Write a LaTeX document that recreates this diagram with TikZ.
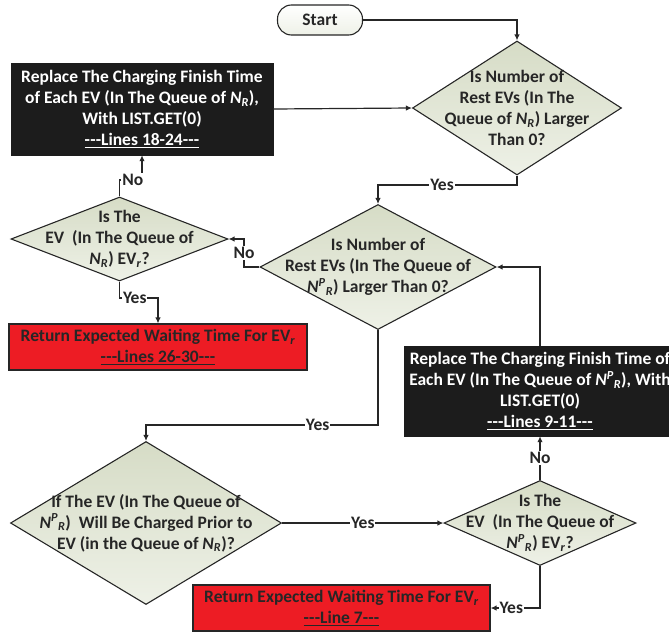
\documentclass[tikz,border=0pt]{standalone}
\usepackage{fontspec}
\newfontfamily\carl{Carlito}
\usetikzlibrary{shapes.geometric,arrows.meta}
\definecolor{diaTop}{HTML}{D6DCC6}
\definecolor{diaBot}{HTML}{EEF1E7}
\definecolor{boxRed}{HTML}{ED1C24}
\definecolor{boxBlk}{HTML}{1C1C1C}
\definecolor{txt}{HTML}{262626}
\newcommand{\myNR}{\textit{N}\textsubscript{\textit{R}}}
\newcommand{\myNPR}{\textit{N}\textsuperscript{\textit{P}}\textsubscript{\textit{R}}}
\newcommand{\myEVr}{EV\textsubscript{\textit{r}}}
\newcommand{\mytd}{-\kern0.01em-\kern0.01em-}
\tikzset{
  base/.style={font=\carl\bfseries\fontsize{17.5}{21}\selectfont, align=center, text=txt},
  dia/.style={shape=diamond, draw=txt, line width=1.1pt, top color=diaTop, bottom color=diaBot, inner sep=0pt, text=txt},
  dtext/.style={base, inner sep=0pt},
  blk/.style={base, rectangle, fill=boxBlk, draw=boxBlk, text=white, inner sep=0pt},
  red/.style={base, rectangle, fill=boxRed, draw=txt, line width=1.1pt, inner sep=0pt},
  term/.style={base, rectangle, rounded corners=14pt, draw=txt, line width=1.1pt, top color=white, bottom color=diaBot, inner sep=0pt},
  conn/.style={draw=txt, line width=1.2pt, -{Latex[length=6pt,width=5.5pt]}},
  lab/.style={base, fill=white, inner sep=1pt},
}
\begin{document}
\begin{tikzpicture}[x=1pt,y=-1pt]
\useasboundingbox (0,0) rectangle (669,632);
\begin{scope}
\clip (0,0) rectangle (669,632);
% nodes
\node[term, minimum width=85pt, minimum height=30pt] (start) at (320,20) {Start};
\node[dia, minimum width=209pt, minimum height=134pt] (d1) at (517,108) {};
\node[dtext] at (d1.center) {Is Number of\\Rest EVs (In The\\Queue of \myNR) Larger\\Than 0?};
\node[blk, minimum width=262pt, minimum height=92pt] (b1) at (142,109) {Replace The Charging Finish Time\\of Each EV (In The Queue of \myNR),\\With LIST.GET(0)\\\underline{\mytd Lines 18-24\mytd}};
\node[dia, minimum width=236pt, minimum height=125pt] (d2) at (378,267) {};
\node[dtext] at (d2.center) {Is Number of\\Rest EVs (In The Queue of\\\myNPR) Larger Than 0?};
\node[dia, minimum width=217pt, minimum height=84pt] (d3) at (119.5,239) {};
\node[dtext] at (d3.center) {Is The\\EV\ \ (In The Queue of\\\myNR) \myEVr?};
\node[red, minimum width=298pt, minimum height=46pt] (r1) at (158,347) {Return Expected Waiting Time For \myEVr\\\underline{\mytd Lines 26-30\mytd}};
\node[blk, minimum width=272pt, minimum height=90pt] (b2) at (540,391) {Replace The Charging Finish Time of\\Each EV (In The Queue of \myNPR), With\\LIST.GET(0)\\\underline{\mytd Lines 9-11\mytd}};
\node[dia, minimum width=271pt, minimum height=163pt] (d4) at (146,523) {};
\node[dtext] at (d4.center) {If The EV (In The Queue of\\\myNPR)\ \ Will Be Charged Prior to\\EV (in the Queue of \myNR)?};
\node[dia, minimum width=192pt, minimum height=85pt] (d5) at (540,523) {};
\node[dtext] at (d5.center) {Is The\\EV\ \ (In The Queue of\\\myNPR) \myEVr?};
\node[red, minimum width=297pt, minimum height=46pt] (r2) at (341.5,608) {Return Expected Waiting Time For \myEVr\\\underline{\mytd Line 7\mytd}};
% connectors
\draw[conn] (start.east) -| (d1.north);
\draw[conn] (b1.east) -- (d1.west);
\draw[conn] (d1.south) |- (378,185) -- (d2.north) node[pos=0, lab, xshift=64pt] {Yes};
\draw[conn] (d2.west) -- (244,267) -- (244,239) node[midway, lab] {No} -- (d3.east);
\draw[conn] (d3.north) |- (b1.south |- 0,180) node[pos=0.75, lab, xshift=2pt] {No} -- (b1.south);
\draw[conn] (d3.south) |- (r1.north |- 0,298) node[pos=0.75, lab, xshift=-4pt] {Yes} -- (r1.north);
\draw[conn] (d2.south) |- (d4.north |- 0,425) node[pos=0.63, lab] {Yes} -- (d4.north);
\draw[conn] (d4.east) -- (d5.west) node[midway, lab] {Yes};
\draw[conn] (d5.north) -- (b2.south) node[midway, lab] {No};
\draw[conn] (b2.north) |- (d2.east);
\draw[conn] (d5.south) |- (r2.east) node[pos=0.75, lab, xshift=-4pt] {Yes};
\end{scope}
\end{tikzpicture}
\end{document}
